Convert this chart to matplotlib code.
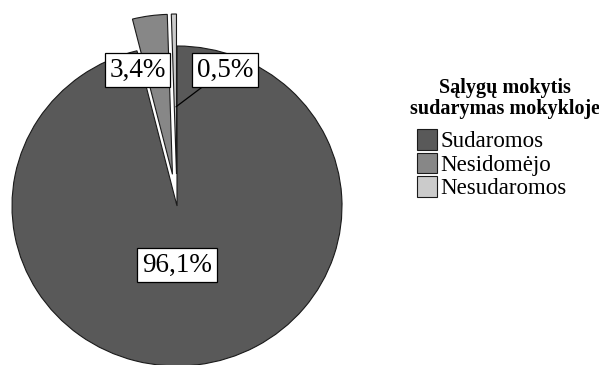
import matplotlib.pyplot as plt

categories = ["Sudaromos", "Nesidomėjo", "Nesudaromos"]
shares = [96.1, 3.4, 0.5]
labels = ["96,1%", "3,4%", "0,5%"]
colors = ["#595959", "#878787", "#cbcbcb"]
explode = [0.0, 0.2, 0.2]

plt.rcParams["font.family"] = ["Liberation Serif", "DejaVu Serif"]

fig = plt.figure(figsize=(5.99, 3.65), dpi=100)
ax = fig.add_axes([0, 0, 1, 1])

wedges, _ = ax.pie(
    shares,
    colors=colors,
    explode=explode,
    startangle=90,
    counterclock=False,
    wedgeprops=dict(edgecolor="#1a1a1a", linewidth=0.8),
)

# slightly wider than tall, like the original export
ax.set_aspect("auto")
ax.set_xlim(-177 / 165, (599 - 177) / 165)
ax.set_ylim(-159 / 160, (365 - 159) / 160)
ax.axis("off")

box = dict(boxstyle="square,pad=0.17", facecolor="white",
           edgecolor="black", linewidth=0.9)

ax.text(0.0, -0.37, labels[0], ha="center", va="center",
        fontsize=19.5, bbox=box)
ax.text(-0.24, 0.85, labels[1], ha="center", va="center",
        fontsize=19.5, bbox=box)
ax.annotate(labels[2], xy=(-0.006, 0.62), xytext=(0.29, 0.85),
            ha="center", va="center", fontsize=19.5, bbox=box,
            arrowprops=dict(arrowstyle="-", color="black", lw=0.9,
                            shrinkA=0, shrinkB=0))

# legend title as its own centred block
fig.text(505 / 599, 1 - 78 / 365, "Sąlygų mokytis\nsudarymas mokykloje",
         ha="center", va="top", multialignment="center",
         fontsize=14.5, fontweight="bold", linespacing=1.05)

fig.legend(
    wedges, categories,
    loc="upper left", bbox_to_anchor=(417 / 599, 1 - 129 / 365),
    frameon=False, fontsize=16.5,
    borderpad=0, borderaxespad=0,
    handlelength=0.87, handleheight=1.0,
    handletextpad=0.15, labelspacing=0.02,
)

fig.savefig("out.png", dpi=100)
